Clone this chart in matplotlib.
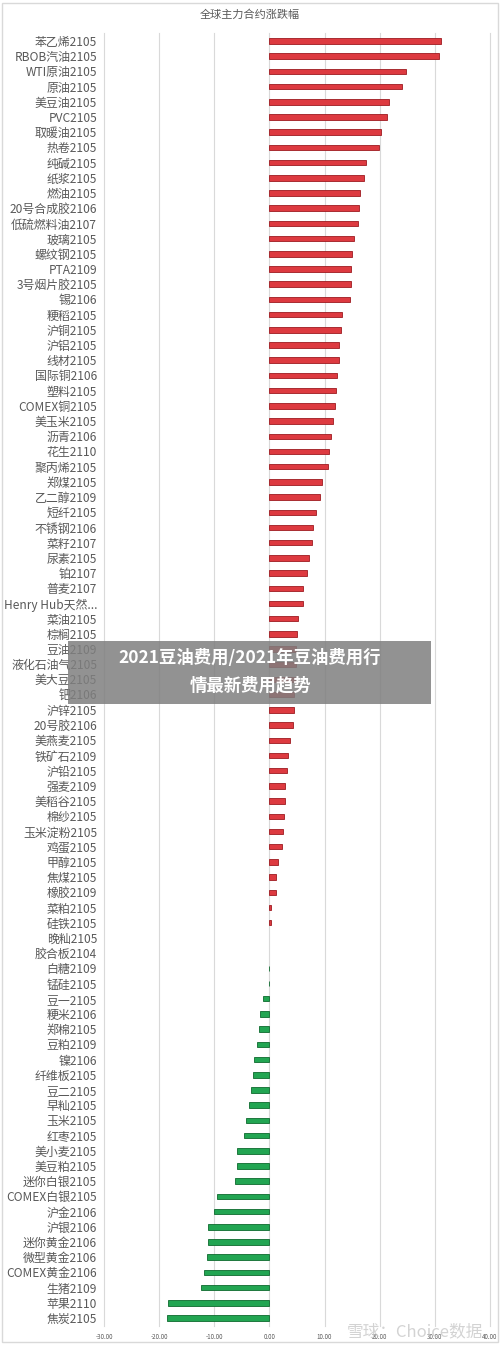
import matplotlib
matplotlib.use('Agg')
import matplotlib.pyplot as plt
from matplotlib.patches import Rectangle

plt.rcParams['font.family'] = ['Noto Sans CJK SC', 'DejaVu Sans']

# contracts, top to bottom, and their change in percent
names = [
    '苯乙烯2105', 'RBOB汽油2105', 'WTI原油2105', '原油2105', '美豆油2105',
    'PVC2105', '取暖油2105', '热卷2105', '纯碱2105', '纸浆2105',
    '燃油2105', '20号合成胶2106', '低硫燃料油2107', '玻璃2105', '螺纹钢2105',
    'PTA2109', '3号烟片胶2105', '锡2106', '粳稻2105', '沪铜2105',
    '沪铝2105', '线材2105', '国际铜2106', '塑料2105', 'COMEX铜2105',
    '美玉米2105', '沥青2106', '花生2110', '聚丙烯2105', '郑煤2105',
    '乙二醇2109', '短纤2105', '不锈钢2106', '菜籽2107', '尿素2105',
    '铂2107', '普麦2107', 'Henry Hub天然...', '菜油2105', '棕榈2105',
    '豆油2109', '液化石油气2105', '美大豆2105', '钯2106', '沪锌2105',
    '20号胶2106', '美燕麦2105', '铁矿石2109', '沪铅2105', '强麦2109',
    '美稻谷2105', '棉纱2105', '玉米淀粉2105', '鸡蛋2105', '甲醇2105',
    '焦煤2105', '橡胶2109', '菜粕2105', '硅铁2105', '晚籼2105',
    '胶合板2104', '白糖2109', '锰硅2105', '豆一2105', '粳米2106',
    '郑棉2105', '豆粕2109', '镍2106', '纤维板2105', '豆二2105',
    '早籼2105', '玉米2105', '红枣2105', '美小麦2105', '美豆粕2105',
    '迷你白银2105', 'COMEX白银2105', '沪金2106', '沪银2106', '迷你黄金2106',
    '微型黄金2106', 'COMEX黄金2106', '生猪2109', '苹果2110', '焦炭2105',
]
changes = [
    31.1, 30.7, 24.7, 24.0, 21.6,
    21.3, 20.2, 19.9, 17.5, 17.2,
    16.5, 16.2, 16.1, 15.4, 15.0,
    14.8, 14.8, 14.6, 13.2, 12.9,
    12.7, 12.7, 12.2, 12.0, 11.9,
    11.6, 11.2, 10.8, 10.7, 9.6,
    9.2, 8.4, 7.9, 7.7, 7.1,
    6.8, 6.1, 6.1, 5.2, 5.0,
    4.9, 4.8, 4.7, 4.5, 4.4,
    4.2, 3.8, 3.3, 3.1, 2.9,
    2.8, 2.7, 2.5, 2.2, 1.5,
    1.2, 1.2, 0.35, 0.2, 0.0,
    0.0, -0.15, -0.15, -1.15, -1.8,
    -1.9, -2.3, -2.8, -2.9, -3.3,
    -3.7, -4.2, -4.7, -5.9, -5.9,
    -6.2, -9.5, -10.1, -11.1, -11.2,
    -11.3, -11.8, -12.4, -18.4, -18.6,
]
xticks = [-30, -20, -10, 0, 10, 20, 30, 40]

fig = plt.figure(figsize=(5, 13.45), dpi=100)
ax = fig.add_axes([0.208, 0.0144, 0.772, 0.9608])

pos = list(range(len(names)))
face = ['#dd3a40' if v >= 0 else '#22a552' for v in changes]
# no outline on empty bars, otherwise a stray line shows at zero
dark = ['none' if v == 0 else ('#9e1a20' if v > 0 else '#0d6a2e') for v in changes]

ax.barh(pos, changes, height=0.36, color=face, edgecolor=dark, linewidth=0.6, zorder=3)

ax.set_xlim(-30, 40)
ax.set_ylim(len(names) - 0.5, -0.5)
ax.set_xticks(xticks)
ax.set_xticklabels(['%.2f' % t for t in xticks], fontsize=4.5, color='#595959')
ax.set_yticks(pos)
ax.set_yticklabels(names, fontsize=8.6, color='#595959')
ax.tick_params(axis='both', length=0)
ax.tick_params(axis='y', pad=5)
ax.tick_params(axis='x', pad=5)
for t in xticks:
    ax.axvline(t, color='#d9d9d9', lw=0.8, zorder=1, clip_on=False)
for s in ax.spines.values():
    s.set_visible(False)

fig.text(0.5, 0.9895, '全球主力合约涨跌幅', ha='center', va='center',
         fontsize=8, color='#595959')

# outer frame
fig.patches.append(Rectangle((0.004, 0.002), 0.992, 0.996, transform=fig.transFigure,
                             fill=False, edgecolor='#d9d9d9', lw=1))

# banner over the chart
fig.patches.append(Rectangle((0.136, 0.4766), 0.726, 0.0468, transform=fig.transFigure,
                             facecolor='#7f7f7f', alpha=0.85, edgecolor='none', zorder=10))
fig.text(0.5, 0.511, '2021豆油费用/2021年豆油费用行', ha='center', va='center',
         fontsize=12.5, fontweight='bold', color='white', zorder=11)
fig.text(0.5, 0.4905, '情最新费用趋势', ha='center', va='center',
         fontsize=12.5, fontweight='bold', color='white', zorder=11)

# watermark
fig.text(0.83, 0.0095, '雪球：Choice数据', ha='center', va='center',
         fontsize=12, color='#c8c8c8', alpha=0.8, zorder=11)

fig.savefig('out.png', dpi=100, facecolor='white')
